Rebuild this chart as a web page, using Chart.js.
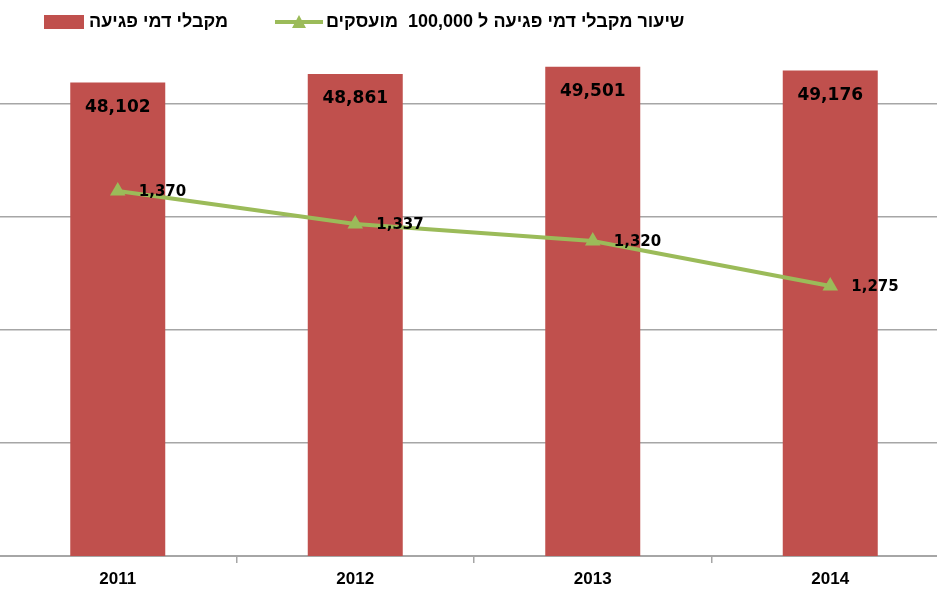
<!DOCTYPE html>
<html>
<head>
<meta charset="utf-8">
<script src="https://cdn.jsdelivr.net/npm/chart.js@4.4.1/dist/chart.umd.min.js"></script>
<style>
  html, body { margin: 0; padding: 0; background: #fff; overflow: hidden; }
  #wrap { position: relative; width: 937px; height: 590px; overflow: hidden; }
  #chart { position: absolute; left: -10px; top: 0; }
  .lg { position: absolute; font: bold 18px "Liberation Sans", Arial, sans-serif; color: #000; top: 11px; white-space: pre; }
  .sw { position: absolute; }
</style>
</head>
<body>
<div id="wrap">
  <canvas id="chart" width="968" height="590"></canvas>
  <!-- legend -->
  <div class="sw" style="left:44px; top:15px; width:40px; height:14px; background:#C0504D;"></div>
  <div class="lg" id="lg-bar" style="left:89px;"></div>
  <svg class="sw" style="left:275px; top:13px;" width="48" height="18" viewBox="0 0 48 18">
    <line x1="0" y1="9" x2="48" y2="9" stroke="#9BBB59" stroke-width="4"/>
    <polygon points="24,2 31,15 17,15" fill="#9BBB59"/>
  </svg>
  <div class="lg" id="lg-line" style="left:326px;"></div>
</div>
<script>
// data
const years = ['2011', '2012', '2013', '2014'];
const recipients = [48102, 48861, 49501, 49176];      // מקבלי דמי פגיעה
const ratePer100k = [1370, 1337, 1320, 1275];          // שיעור ל 100,000 מועסקים
const barLabel = 'מקבלי דמי פגיעה';
const lineLabel = 'שיעור מקבלי דמי פגיעה ל 100,000  מועסקים';

// axis ranges (no tick labels are shown, only gridlines)
const barAxisMin = 6200;
const barAxisMax = 50980;
const barGridTicks = [6200, 16200, 26200, 36200, 46200];
const lineAxisMin = 1005;
const lineAxisMax = 1511;

const RED = '#C0504D';
const GREEN = '#9BBB59';
const GRID = '#a6a6a6';

document.getElementById('lg-bar').textContent = barLabel;
document.getElementById('lg-line').textContent = lineLabel;

const fmt = v => v.toLocaleString('en-US');

// value labels: inside bar tops, to the right of the line points
const valueLabels = {
  id: 'valueLabels',
  afterDatasetsDraw(chart) {
    const ctx = chart.ctx;
    ctx.save();
    ctx.fillStyle = '#000';
    ctx.textBaseline = 'middle';

    ctx.font = 'bold 17px "DejaVu Sans"';
    ctx.textAlign = 'center';
    chart.getDatasetMeta(0).data.forEach((bar, i) => {
      ctx.fillText(fmt(recipients[i]), bar.x, bar.y + 25);
    });

    ctx.font = 'bold 15px "DejaVu Sans"';
    ctx.textAlign = 'left';
    chart.getDatasetMeta(1).data.forEach((pt, i) => {
      ctx.fillText(fmt(ratePer100k[i]), pt.x + 21, pt.y + 1);
    });
    ctx.restore();
  }
};

new Chart(document.getElementById('chart'), {
  data: {
    labels: years,
    datasets: [
      {
        type: 'bar',
        label: barLabel,
        data: recipients,
        backgroundColor: RED,
        borderWidth: 0,
        barPercentage: 0.4,
        categoryPercentage: 1,
        yAxisID: 'y',
        order: 1
      },
      {
        type: 'line',
        label: lineLabel,
        data: ratePer100k,
        borderColor: GREEN,
        borderWidth: 4,
        backgroundColor: GREEN,
        pointStyle: 'triangle',
        pointRadius: 9,
        pointBorderWidth: 0,
        pointBackgroundColor: GREEN,
        tension: 0,
        yAxisID: 'y1',
        order: 0
      }
    ]
  },
  options: {
    responsive: false,
    animation: false,
    layout: { padding: { top: 50, left: 0, right: 0, bottom: 0 } },
    plugins: {
      legend: { display: false },
      tooltip: { enabled: false }
    },
    scales: {
      x: {
        offset: true,
        grid: { offset: true, drawOnChartArea: false, drawTicks: true, tickLength: 7, color: GRID, lineWidth: 1.5 },
        border: { display: true, color: GRID, width: 2 },
        ticks: {
          color: '#000',
          padding: 6,
          font: { family: '"Liberation Sans", Arial', size: 17, weight: 'bold' }
        },
        afterFit: s => { s.height = 34; }
      },
      y: {
        min: barAxisMin,
        max: barAxisMax,
        afterBuildTicks: s => { s.ticks = barGridTicks.map(v => ({ value: v })); },
        ticks: { display: false },
        grid: { color: GRID, lineWidth: 1.5, drawTicks: false },
        border: { display: false },
        afterFit: s => { s.width = 0; }
      },
      y1: {
        display: false,
        position: 'right',
        min: lineAxisMin,
        max: lineAxisMax
      }
    }
  },
  plugins: [valueLabels]
});
</script>
</body>
</html>
